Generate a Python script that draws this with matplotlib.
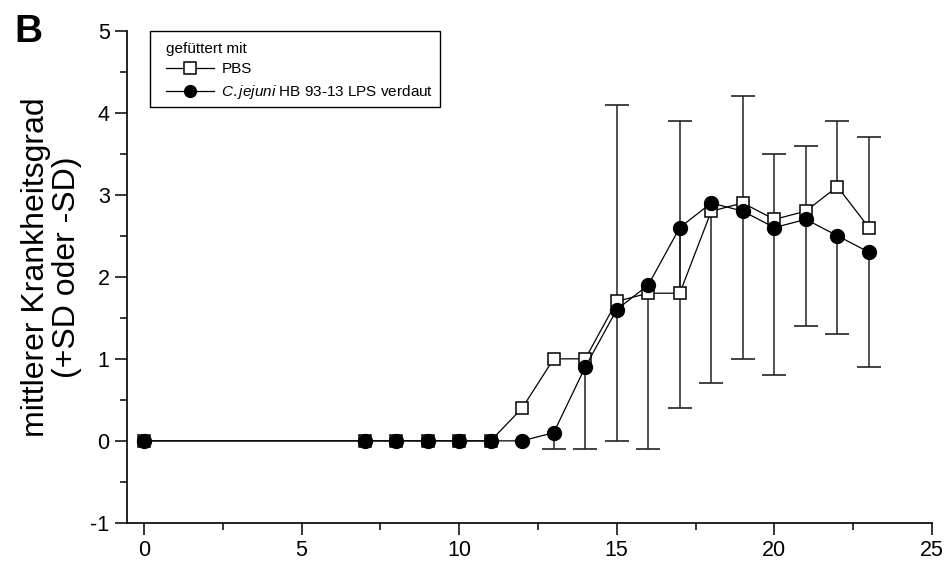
import numpy as np
import matplotlib
matplotlib.use("Agg")
import matplotlib.pyplot as plt
from matplotlib.ticker import MultipleLocator
from matplotlib.patches import Rectangle

plt.rcParams["font.family"] = ["Liberation Sans", "DejaVu Sans"]
plt.rcParams["mathtext.fontset"] = "custom"
plt.rcParams["mathtext.rm"] = "Liberation Sans"
plt.rcParams["mathtext.it"] = "Liberation Sans:italic"
plt.rcParams["axes.unicode_minus"] = False

# Days after immunisation
days = [0, 7, 8, 9, 10, 11, 12, 13, 14, 15, 16, 17, 18, 19, 20, 21, 22, 23]

# Mean disease score, PBS-fed group (+SD shown)
pbs_mean = [0, 0, 0, 0, 0, 0, 0.4, 1.0, 1.0, 1.7, 1.8, 1.8, 2.8, 2.9, 2.7, 2.8, 3.1, 2.6]
pbs_sd_up = [0, 0, 0, 0, 0, 0, 0, 0, 0, 2.4, 0, 2.1, 0, 1.3, 0.8, 0.8, 0.8, 1.1]

# Mean disease score, C. jejuni LPS-fed group (-SD shown)
lps_mean = [0, 0, 0, 0, 0, 0, 0, 0.1, 0.9, 1.6, 1.9, 2.6, 2.9, 2.8, 2.6, 2.7, 2.5, 2.3]
lps_sd_down = [0, 0, 0, 0, 0, 0, 0, 0.2, 1.0, 1.6, 2.0, 2.2, 2.2, 1.8, 1.8, 1.3, 1.2, 1.4]

legend_title = "gefüttert mit"
label_pbs = "PBS"
label_lps = r"$\it{C.jejuni}$ HB 93-13 LPS verdaut"

fig = plt.figure(figsize=(9.49, 5.65), dpi=100)
ax = fig.add_axes([0.1338, 0.0745, 0.982 - 0.1338, 0.9457 - 0.0745])

d = np.array(days, dtype=float)
pm = np.array(pbs_mean)
pu = np.array(pbs_sd_up)
lm = np.array(lps_mean)
ld = np.array(lps_sd_down)

err_color = "#222222"
cap_kw = dict(linestyle="none", marker="_", markersize=17, markeredgewidth=1.2,
              color=err_color, zorder=1)

# one-sided error bars: upward for PBS, downward for LPS
mp = pu > 0
ax.errorbar(d[mp], pm[mp], yerr=[np.zeros(mp.sum()), pu[mp]], fmt="none",
            ecolor=err_color, elinewidth=1.1, capsize=0, zorder=1)
ax.plot(d[mp], pm[mp] + pu[mp], **cap_kw)
ml = ld > 0
ax.errorbar(d[ml], lm[ml], yerr=[ld[ml], np.zeros(ml.sum())], fmt="none",
            ecolor=err_color, elinewidth=1.1, capsize=0, zorder=1)
ax.plot(d[ml], lm[ml] - ld[ml], **cap_kw)

ax.plot(d, pm, "-", color="black", lw=0.9, marker="s", markersize=8.5,
        markerfacecolor="white", markeredgecolor="black", markeredgewidth=1.1,
        label=label_pbs, zorder=3)
ax.plot(d, lm, "-", color="black", lw=0.9, marker="o", markersize=10,
        markerfacecolor="black", markeredgecolor="black",
        label=label_lps, zorder=4)

ax.set_xlim(-0.54, 25)
ax.set_ylim(-1, 5)
ax.xaxis.set_major_locator(MultipleLocator(5))
ax.xaxis.set_minor_locator(MultipleLocator(2.5))
ax.yaxis.set_major_locator(MultipleLocator(1))
ax.yaxis.set_minor_locator(MultipleLocator(0.5))

for s in ("top", "right"):
    ax.spines[s].set_visible(False)
for s in ("left", "bottom"):
    ax.spines[s].set_linewidth(1.2)

ax.tick_params(which="major", direction="out", length=8.5, width=1.1,
               labelsize=15.5, pad=4)
ax.tick_params(which="minor", direction="out", length=5, width=1.1)

ax.set_ylabel("mittlerer Krankheitsgrad\n(+SD oder -SD)", fontsize=23,
              linespacing=1.05)
ax.yaxis.set_label_coords(-0.056, 0.52)

# legend box
ax.add_patch(Rectangle((150 / 949, 1 - 107 / 565), 290 / 949, 76 / 565,
                       transform=fig.transFigure, facecolor="white",
                       edgecolor="black", linewidth=1.0, zorder=5,
                       clip_on=False))
leg = ax.legend(title=legend_title, loc="upper left",
                bbox_to_anchor=(161 / 949, 1 - 37 / 565),
                bbox_transform=fig.transFigure, frameon=False,
                borderaxespad=0, borderpad=0.3,
                fontsize=11, title_fontsize=11, alignment="left",
                handlelength=3.2, handletextpad=0.45, labelspacing=0.45)
leg.set_zorder(6)
for h in leg.legend_handles:
    h.set_markersize(8.5)

fig.text(0.015, 0.926, "B", fontsize=28, fontweight="bold")

fig.savefig("out.png", dpi=100)
